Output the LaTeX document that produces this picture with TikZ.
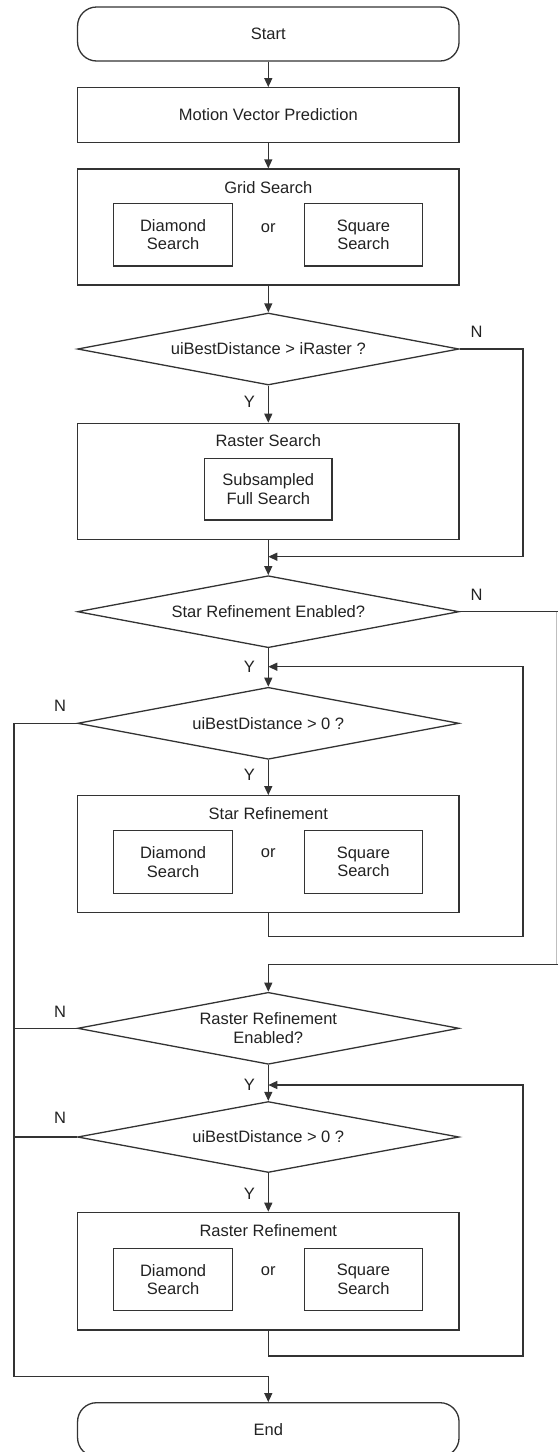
\documentclass[tikz,border=0pt]{standalone}
\usepackage{fontspec}
\setmainfont{Liberation Sans}
\usetikzlibrary{shapes.geometric,arrows.meta}
\definecolor{lc}{HTML}{333333}
\definecolor{tc}{HTML}{222222}
\newcommand\myfs{\fontsize{16.5}{18.5}\selectfont}
\begin{document}
\begin{tikzpicture}[x=1pt,y=-1pt,
  line/.style={draw=lc, line width=1.3pt},
  arr/.style={line, -{Triangle[length=9pt,width=8pt]}},
  term/.style={draw=lc, line width=1.3pt, rounded corners=19pt, minimum width=381.5pt, minimum height=54pt, inner sep=0pt, font=\myfs, text=tc},
  proc/.style={draw=lc, line width=1.3pt, minimum width=381.5pt, inner sep=0pt, font=\myfs, text=tc},
  sub/.style={draw=lc, line width=1.3pt, minimum width=119pt, minimum height=62.4pt, inner sep=0pt, align=center, font=\myfs, text=tc},
  dec/.style={diamond, aspect=5, draw=lc, line width=1.3pt, minimum width=381.5pt, minimum height=72pt, inner sep=0pt, align=center, font=\myfs, text=tc},
  lbl/.style={inner sep=0pt, font=\myfs, text=tc}]
\useasboundingbox (0,0) rectangle (558,1452);
\clip (0,0) rectangle (558,1452);
\fill[white] (0,0) rectangle (558,1452);

% nodes
\node[term] (start) at (268.3,34) {Start};
\node[proc, minimum height=54.6pt] (mvp) at (268.3,115) {Motion Vector Prediction};

\node[proc, minimum height=116pt] (grid) at (268.3,227) {};
\node[lbl] (gridt) at (268.3,188) {Grid Search};
\node[sub] (gridd) at (173.1,234.8) {Diamond\\Search};
\node[lbl] (grido) at (268.3,228) {or};
\node[sub, minimum width=118pt] (grids) at (363.4,234.8) {Square\\Search};

\node[dec] (d1) at (268.3,349) {uiBestDistance > iRaster ?};
\node[lbl] (n1) at (476.5,332) {N};
\node[lbl] (y1) at (249.5,402) {Y};

\node[proc, minimum height=116pt] (rs) at (268.3,481.3) {};
\node[lbl] (rst) at (268.3,441) {Raster Search};
\node[sub, minimum width=127.4pt, minimum height=61.7pt] (rsf) at (268.3,489.2) {Subsampled\\Full Search};

\node[dec] (d2) at (268.3,611.7) {Star Refinement Enabled?};
\node[lbl] (n2) at (476.5,595) {N};
\node[lbl] (y2) at (249.5,667) {Y};

\node[dec] (d3) at (268.3,723.3) {uiBestDistance > 0 ?};
\node[lbl] (n3) at (60,706) {N};
\node[lbl] (y3) at (249.5,775) {Y};

\node[proc, minimum height=117pt] (sr) at (268.3,854.2) {};
\node[lbl] (srt) at (268.3,813.3) {Star Refinement};
\node[sub] (srd) at (173.1,862) {Diamond\\Search};
\node[lbl] (sro) at (268.3,853.3) {or};
\node[sub, minimum width=118pt] (srs) at (363.4,862) {Square\\Search};

\node[dec] (d4) at (268.3,1028.3) {Raster Refinement\\Enabled?};
\node[lbl] (n4) at (60,1012.3) {N};
\node[lbl] (y4) at (249.5,1085) {Y};

\node[dec, minimum height=71pt] (d5) at (268.3,1137) {uiBestDistance > 0 ?};
\node[lbl] (n5) at (60,1118.3) {N};
\node[lbl] (y5) at (249.5,1194.3) {Y};

\node[proc, minimum height=117.7pt] (rr) at (268.3,1271.2) {};
\node[lbl] (rrt) at (268.3,1231) {Raster Refinement};
\node[sub] (rrd) at (173.1,1279.5) {Diamond\\Search};
\node[lbl] (rro) at (268.3,1271) {or};
\node[sub, minimum width=118pt] (rrs) at (363.4,1279.5) {Square\\Search};

\node[term] (end) at (268.3,1429.7) {End};

% coordinates
\coordinate (m1) at (268.3,556.7);
\coordinate (c1) at (523,556.7);
\coordinate (e2) at (558,611.7);
\coordinate (e4) at (558,964.3);
\coordinate (m2) at (268.3,666.7);
\coordinate (c3) at (523,936.7);
\coordinate (m4) at (268.3,1085);
\coordinate (c5) at (523,1356);
\coordinate (c6) at (14,1376.7);

% connectors
\draw[arr] (start) -- (mvp);
\draw[arr] (mvp) -- (grid);
\draw[arr] (grid) -- (d1.north);
\draw[arr] (d1.south) -- (rs.north);
\draw[arr] (d1.east) -| (c1) -- (m1);
\draw[arr] (rs.south) -- (d2.north);
\draw[line] (d2.east) -- (e2);
\draw[draw=black!25, line width=0.8pt] (556.6,611.7) -- (556.6,964.3);
\draw[arr] (d2.south) -- (d3.north);
\draw[arr] (d3.south) -- (sr.north);
\draw[arr] (sr.south) |- (c3) |- (m2);
\draw[arr] (e4) -| (d4.north);
\draw[arr] (d4.south) -- (d5.north);
\draw[arr] (d5.south) -- (rr.north);
\draw[arr] (rr.south) |- (c5) |- (m4);
\draw[arr] (d3.west) -| (c6) -| (end.north);
\draw[line] (d4.west) -- (d4.west -| c6);
\draw[line] (d5.west) -- (d5.west -| c6);
\end{tikzpicture}
\end{document}
